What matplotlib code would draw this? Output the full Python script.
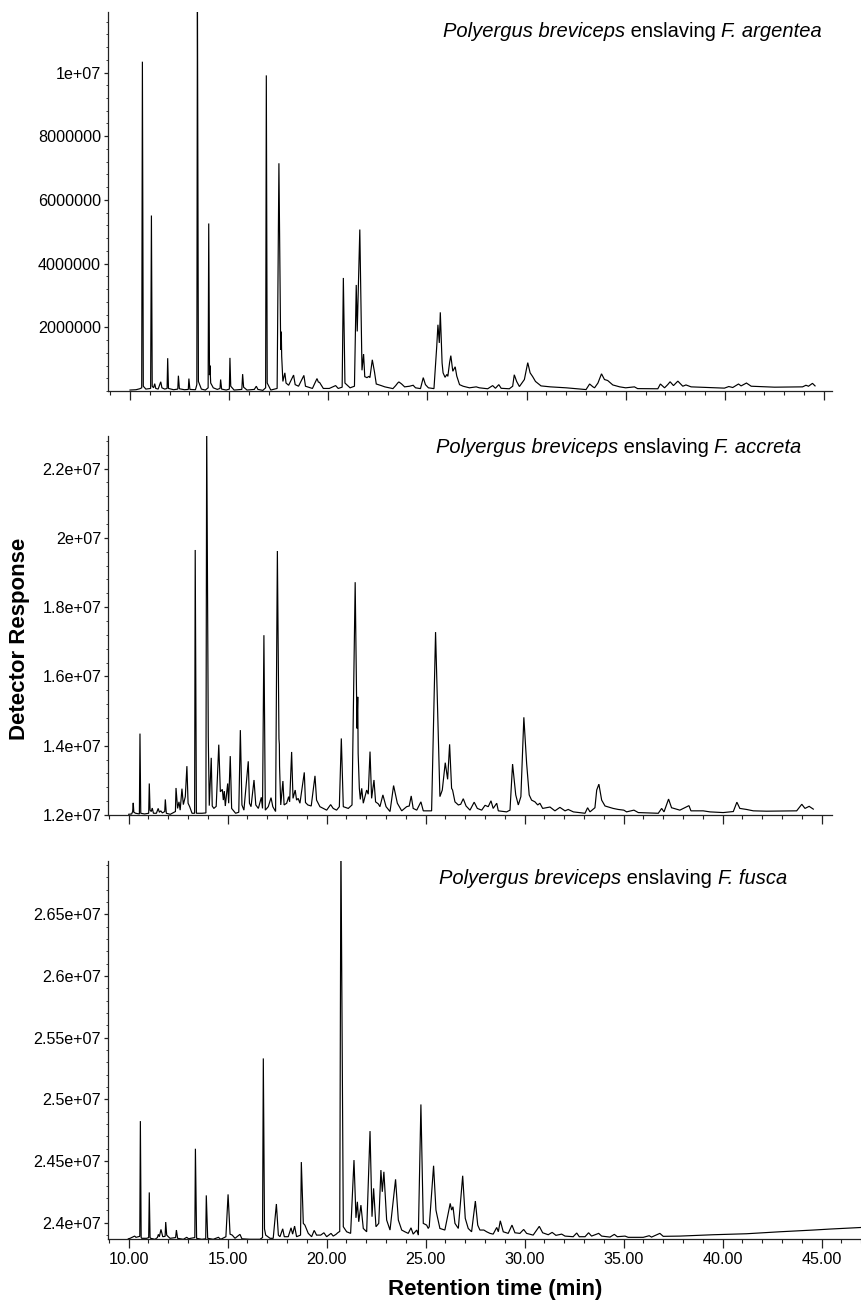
import matplotlib
matplotlib.use("Agg")
import matplotlib.pyplot as plt
from matplotlib.ticker import FixedLocator, FixedFormatter, MultipleLocator, NullFormatter

plt.rcParams['font.family'] = ['Liberation Sans', 'DejaVu Sans']

UNIT = 1e6  # responses below are in millions of counts

# ---- chromatogram vertices (retention time [min], detector response [1e6]) ----
argentea = [
    (10.00, 0.03), (10.30, 0.04), (10.49, 0.07), (10.59, 0.10), (10.625, 10.34), (10.67, 0.15),
    (10.80, 0.06), (11.04, 0.08), (11.08, 5.51), (11.12, 0.15), (11.19, 0.10), (11.245, 0.23),
    (11.30, 0.08), (11.42, 0.06), (11.55, 0.29), (11.61, 0.10), (11.75, 0.06), (11.87, 0.08),
    (11.90, 1.03), (11.94, 0.08), (12.20, 0.04), (12.41, 0.06), (12.44, 0.48), (12.49, 0.07),
    (12.75, 0.04), (12.94, 0.05), (12.97, 0.39), (13.02, 0.05), (13.30, 0.04), (13.37, 0.20),
    (13.40, 12.50), (13.45, 0.30), (13.60, 0.06), (13.80, 0.03), (13.94, 0.10), (13.97, 5.26),
    (14.01, 0.50), (14.03, 0.80), (14.07, 0.25), (14.20, 0.10), (14.40, 0.05), (14.54, 0.08),
    (14.57, 0.36), (14.62, 0.06), (14.85, 0.03), (15.01, 0.06), (15.04, 1.04), (15.08, 0.15),
    (15.25, 0.03), (15.64, 0.05), (15.68, 0.53), (15.73, 0.12), (15.90, 0.03), (16.27, 0.05),
    (16.37, 0.15), (16.45, 0.05), (16.70, 0.02), (16.84, 0.10), (16.875, 9.91), (16.92, 0.25),
    (17.10, 0.03), (17.42, 0.08), (17.51, 7.15), (17.60, 1.30), (17.63, 1.86), (17.65, 1.09),
    (17.71, 0.30), (17.81, 0.57), (17.87, 0.25), (18.00, 0.18), (18.25, 0.50), (18.33, 0.20),
    (18.50, 0.15), (18.77, 0.49), (18.85, 0.15), (19.20, 0.08), (19.43, 0.39), (19.50, 0.28),
    (19.56, 0.27), (19.75, 0.08), (20.05, 0.08), (20.37, 0.17), (20.50, 0.08), (20.70, 0.12),
    (20.76, 3.55), (20.84, 0.25), (21.10, 0.10), (21.32, 0.15), (21.41, 3.33), (21.46, 1.87),
    (21.59, 5.07), (21.70, 0.65), (21.78, 1.16), (21.84, 0.45), (21.95, 0.42), (22.05, 0.46),
    (22.10, 0.42), (22.22, 0.98), (22.33, 0.60), (22.42, 0.22), (22.67, 0.17), (22.85, 0.13),
    (23.26, 0.075), (23.40, 0.17), (23.50, 0.25), (23.56, 0.285), (23.70, 0.22), (23.85, 0.13),
    (24.10, 0.15), (24.28, 0.18), (24.40, 0.10), (24.65, 0.075), (24.79, 0.42), (24.90, 0.20),
    (25.05, 0.10), (25.33, 0.075), (25.47, 1.40), (25.53, 2.08), (25.60, 1.51), (25.65, 2.47),
    (25.74, 0.88), (25.79, 0.57), (25.89, 0.43), (25.98, 0.52), (26.03, 0.46), (26.12, 0.90),
    (26.18, 1.11), (26.28, 0.62), (26.40, 0.76), (26.48, 0.47), (26.62, 0.20), (26.80, 0.15),
    (27.12, 0.10), (27.46, 0.13), (27.62, 0.10), (28.04, 0.07), (28.29, 0.17), (28.43, 0.085),
    (28.60, 0.20), (28.72, 0.085), (29.13, 0.07), (29.30, 0.15), (29.38, 0.51), (29.50, 0.30),
    (29.64, 0.14), (29.89, 0.36), (30.06, 0.89), (30.18, 0.57), (30.31, 0.45), (30.45, 0.30),
    (30.73, 0.16), (31.20, 0.13), (32.00, 0.10), (33.00, 0.045), (33.18, 0.22), (33.35, 0.13),
    (33.43, 0.10), (33.60, 0.25), (33.78, 0.54), (33.93, 0.36), (34.09, 0.33), (34.35, 0.19),
    (34.70, 0.13), (35.00, 0.10), (35.44, 0.13), (35.60, 0.075), (36.62, 0.07), (36.75, 0.22),
    (36.96, 0.10), (37.12, 0.20), (37.24, 0.29), (37.41, 0.17), (37.63, 0.31), (37.88, 0.15),
    (38.04, 0.19), (38.30, 0.13), (39.14, 0.11), (39.98, 0.09), (40.20, 0.14), (40.40, 0.11),
    (40.69, 0.22), (40.82, 0.16), (41.09, 0.25), (41.33, 0.15), (42.51, 0.12), (43.92, 0.13),
    (44.09, 0.18), (44.22, 0.15), (44.42, 0.24), (44.55, 0.16),
]

accreta = [
    (10.00, 12.02), (10.15, 12.03), (10.20, 12.10), (10.23, 12.35), (10.26, 12.08), (10.35, 12.05),
    (10.54, 12.03), (10.57, 14.35), (10.61, 12.05), (10.80, 12.03), (11.01, 12.05), (11.04, 12.91),
    (11.08, 12.14), (11.14, 12.10), (11.19, 12.20), (11.25, 12.05), (11.40, 12.05), (11.49, 12.19),
    (11.55, 12.08), (11.62, 12.12), (11.70, 12.06), (11.82, 12.10), (11.85, 12.45), (11.90, 12.05),
    (12.10, 12.02), (12.36, 12.10), (12.39, 12.78), (12.47, 12.19), (12.54, 12.38), (12.60, 12.14),
    (12.69, 12.76), (12.76, 12.30), (12.86, 12.53), (12.94, 13.41), (13.00, 12.34), (13.08, 12.24),
    (13.20, 12.05), (13.33, 12.05), (13.36, 19.65), (13.42, 12.05), (13.70, 12.05), (13.90, 12.06),
    (13.94, 23.30), (14.01, 15.00), (14.02, 14.26), (14.07, 12.27), (14.17, 13.65), (14.22, 12.26),
    (14.30, 12.19), (14.42, 12.25), (14.55, 14.03), (14.63, 12.67), (14.73, 12.74), (14.78, 12.43),
    (14.83, 12.69), (14.88, 12.26), (15.00, 12.91), (15.05, 12.34), (15.13, 13.70), (15.20, 12.19),
    (15.40, 12.05), (15.56, 12.08), (15.64, 14.45), (15.72, 12.29), (15.82, 12.14), (16.04, 13.55),
    (16.10, 12.34), (16.18, 12.24), (16.33, 13.01), (16.42, 12.29), (16.55, 12.19), (16.70, 12.51),
    (16.76, 12.19), (16.83, 17.19), (16.90, 12.14), (17.05, 12.24), (17.19, 12.50), (17.28, 12.24),
    (17.42, 12.10), (17.51, 19.62), (17.59, 14.20), (17.61, 14.04), (17.62, 13.41), (17.68, 12.29),
    (17.79, 12.98), (17.85, 12.29), (17.98, 12.34), (18.08, 12.53), (18.13, 12.38), (18.23, 13.82),
    (18.30, 12.48), (18.41, 12.72), (18.48, 12.43), (18.56, 12.48), (18.65, 12.34), (18.87, 13.23),
    (18.93, 12.36), (19.05, 12.29), (19.22, 12.26), (19.41, 13.13), (19.49, 12.43), (19.66, 12.24),
    (20.00, 12.14), (20.20, 12.30), (20.33, 12.19), (20.50, 12.14), (20.64, 12.24), (20.74, 14.21),
    (20.84, 12.24), (21.09, 12.19), (21.28, 12.29), (21.44, 18.72), (21.53, 14.50), (21.57, 15.41),
    (21.59, 13.78), (21.65, 12.77), (21.70, 12.45), (21.77, 12.77), (21.85, 12.34), (22.02, 12.72),
    (22.10, 12.60), (22.19, 13.83), (22.27, 12.48), (22.39, 13.01), (22.47, 12.38), (22.61, 12.32),
    (22.69, 12.24), (22.84, 12.58), (23.00, 12.24), (23.20, 12.10), (23.38, 12.85), (23.57, 12.34),
    (23.79, 12.12), (24.04, 12.24), (24.17, 12.26), (24.27, 12.55), (24.37, 12.19), (24.55, 12.14),
    (24.76, 12.38), (24.88, 12.12), (25.30, 12.12), (25.50, 17.28), (25.60, 15.08), (25.63, 14.31),
    (25.72, 12.53), (25.84, 12.72), (25.99, 13.51), (26.11, 13.03), (26.21, 14.04), (26.31, 12.77),
    (26.36, 12.72), (26.48, 12.38), (26.65, 12.29), (26.77, 12.31), (26.90, 12.47), (27.04, 12.26),
    (27.24, 12.14), (27.45, 12.37), (27.61, 12.19), (27.83, 12.14), (28.00, 12.28), (28.16, 12.24),
    (28.30, 12.41), (28.41, 12.19), (28.59, 12.34), (28.67, 12.12), (29.09, 12.09), (29.26, 12.14),
    (29.39, 13.47), (29.55, 12.58), (29.68, 12.29), (29.81, 12.53), (29.96, 14.82), (30.10, 13.49),
    (30.23, 12.58), (30.35, 12.43), (30.52, 12.38), (30.66, 12.29), (30.77, 12.34), (30.91, 12.19),
    (31.28, 12.23), (31.53, 12.12), (31.78, 12.22), (32.04, 12.12), (32.20, 12.16), (32.46, 12.09),
    (33.05, 12.05), (33.18, 12.21), (33.30, 12.09), (33.55, 12.21), (33.64, 12.72), (33.75, 12.89),
    (33.89, 12.43), (34.06, 12.26), (34.47, 12.19), (34.73, 12.16), (35.01, 12.14), (35.15, 12.09),
    (35.52, 12.14), (35.74, 12.07), (36.75, 12.05), (36.92, 12.19), (37.04, 12.09), (37.27, 12.46),
    (37.42, 12.21), (37.84, 12.14), (38.30, 12.27), (38.40, 12.12), (39.02, 12.12), (39.36, 12.09),
    (40.03, 12.07), (40.54, 12.10), (40.72, 12.37), (40.87, 12.19), (41.21, 12.16), (41.55, 12.12),
    (42.22, 12.11), (43.74, 12.12), (44.00, 12.31), (44.16, 12.19), (44.37, 12.25), (44.58, 12.17),
]

fusca = [
    (9.98, 23.870), (10.07, 23.874), (10.23, 23.887), (10.30, 23.892), (10.37, 23.882), (10.49, 23.887),
    (10.56, 23.890), (10.59, 24.824), (10.63, 23.880), (10.66, 23.874), (10.91, 23.874), (11.01, 23.880),
    (11.04, 24.246), (11.08, 23.880), (11.11, 23.874), (11.33, 23.866), (11.45, 23.880), (11.50, 23.906),
    (11.55, 23.887), (11.63, 23.946), (11.72, 23.887), (11.84, 23.890), (11.87, 24.006), (11.92, 23.900),
    (12.00, 23.887), (12.09, 23.874), (12.37, 23.880), (12.41, 23.941), (12.47, 23.874), (12.76, 23.866),
    (12.93, 23.882), (13.03, 23.870), (13.13, 23.874), (13.34, 23.880), (13.37, 24.600), (13.43, 23.874),
    (13.69, 23.866), (13.89, 23.870), (13.92, 24.222), (13.99, 23.874), (14.27, 23.866), (14.53, 23.882),
    (14.65, 23.866), (14.91, 23.887), (15.02, 24.230), (15.12, 23.908), (15.23, 23.900), (15.37, 23.874),
    (15.62, 23.906), (15.72, 23.870), (16.13, 23.866), (16.63, 23.866), (16.76, 23.880), (16.80, 25.332),
    (16.86, 23.950), (16.92, 23.900), (17.14, 23.874), (17.30, 23.874), (17.46, 24.152), (17.56, 23.900),
    (17.64, 23.887), (17.78, 23.951), (17.86, 23.887), (18.06, 23.887), (18.20, 23.959), (18.28, 23.908),
    (18.38, 23.973), (18.48, 23.887), (18.68, 23.900), (18.72, 24.492), (18.82, 23.995), (18.90, 23.981),
    (19.07, 23.914), (19.24, 23.887), (19.37, 23.938), (19.49, 23.900), (19.70, 23.900), (19.86, 23.919),
    (20.00, 23.887), (20.22, 23.914), (20.33, 23.892), (20.47, 23.906), (20.56, 23.919), (20.66, 23.930),
    (20.72, 27.100), (20.84, 23.968), (21.01, 23.927), (21.21, 23.914), (21.38, 24.508), (21.48, 24.040),
    (21.55, 24.170), (21.62, 24.008), (21.73, 24.143), (21.85, 23.954), (22.02, 23.927), (22.19, 24.743),
    (22.29, 24.049), (22.37, 24.279), (22.49, 23.968), (22.63, 23.995), (22.74, 24.427), (22.81, 24.251),
    (22.89, 24.413), (23.03, 24.022), (23.20, 23.941), (23.48, 24.352), (23.62, 24.022), (23.79, 23.941),
    (23.95, 23.927), (24.12, 23.914), (24.26, 23.959), (24.37, 23.908), (24.55, 23.941), (24.63, 23.900),
    (24.76, 24.959), (24.88, 23.995), (25.05, 23.981), (25.13, 23.954), (25.18, 23.968), (25.40, 24.462),
    (25.52, 24.103), (25.59, 24.049), (25.72, 23.954), (25.97, 23.941), (26.24, 24.157), (26.31, 24.103),
    (26.38, 24.130), (26.48, 23.995), (26.65, 23.954), (26.87, 24.381), (27.00, 24.036), (27.15, 23.954),
    (27.32, 23.927), (27.51, 24.176), (27.63, 23.981), (27.74, 23.941), (27.94, 23.941), (28.08, 23.927),
    (28.25, 23.914), (28.41, 23.908), (28.59, 23.962), (28.67, 23.927), (28.77, 24.016), (28.92, 23.927),
    (29.17, 23.914), (29.36, 23.981), (29.51, 23.919), (29.76, 23.914), (29.95, 23.946), (30.10, 23.914),
    (30.43, 23.900), (30.74, 23.971), (30.91, 23.919), (31.19, 23.903), (31.39, 23.922), (31.58, 23.898),
    (31.87, 23.908), (32.04, 23.892), (32.45, 23.887), (32.63, 23.917), (32.76, 23.887), (33.05, 23.887),
    (33.23, 23.919), (33.38, 23.892), (33.74, 23.914), (33.89, 23.892), (34.31, 23.884), (34.53, 23.906),
    (34.68, 23.887), (35.07, 23.892), (35.23, 23.882), (35.99, 23.882), (36.29, 23.895), (36.41, 23.884),
    (36.83, 23.914), (37.00, 23.890), (37.84, 23.892), (39.53, 23.903), (41.21, 23.911), (42.89, 23.927),
    (44.58, 23.941), (45.42, 23.949), (47.02, 23.962),
]

# ---- axis ticks and labels ----
x_major_ticks = [10, 15, 20, 25, 30, 35, 40, 45]
x_tick_labels = ["10.00", "15.00", "20.00", "25.00", "30.00", "35.00", "40.00", "45.00"]

y_ticks_argentea = [2e6, 4e6, 6e6, 8e6, 1e7]
y_labels_argentea = ["2000000", "4000000", "6000000", "8000000", "1e+07"]
y_ticks_accreta = [1.2e7, 1.4e7, 1.6e7, 1.8e7, 2.0e7, 2.2e7]
y_labels_accreta = ["1.2e+07", "1.4e+07", "1.6e+07", "1.8e+07", "2e+07", "2.2e+07"]
y_ticks_fusca = [2.4e7, 2.45e7, 2.5e7, 2.55e7, 2.6e7, 2.65e7]
y_labels_fusca = ["2.4e+07", "2.45e+07", "2.5e+07", "2.55e+07", "2.6e+07", "2.65e+07"]

title_genus = "Polyergus breviceps"
title_verb = " enslaving "
title_hosts = ["F. argentea", "F. accreta", "F. fusca"]

# ---- figure ----
W, H = 862, 1303
fig = plt.figure(figsize=(W / 100, H / 100), dpi=100)

TITLE_FS = 14.5
TICK_FS = 11.6

panels = [
    dict(data=argentea, rect=(108, 12, 831.7, 391.0), xlim=(8.89, 45.39), ylim=(0, 1.19e7),
         yt=y_ticks_argentea, yl=y_labels_argentea, ymin=4e5, host=title_hosts[0],
         tpos=(442.7, 37.3), xlabels=False),
    dict(data=accreta, rect=(108.3, 436, 832.3, 815.0), xlim=(8.97, 45.54), ylim=(1.2e7, 2.294e7),
         yt=y_ticks_accreta, yl=y_labels_accreta, ymin=4e5, host=title_hosts[1],
         tpos=(435.7, 453.3), xlabels=False),
    dict(data=fusca, rect=(108.3, 861, 862, 1239.3), xlim=(8.97, 47.04), ylim=(2.3866e7, 2.6932e7),
         yt=y_ticks_fusca, yl=y_labels_fusca, ymin=1e5, host=title_hosts[2],
         tpos=(439.0, 884.0), xlabels=True),
]

for p in panels:
    x0, y0, x1, y1 = p["rect"]
    ax = fig.add_axes([x0 / W, 1 - y1 / H, (x1 - x0) / W, (y1 - y0) / H])
    t = [v[0] for v in p["data"]]
    r = [v[1] * UNIT for v in p["data"]]
    ax.plot(t, r, color="black", lw=0.85, solid_joinstyle="miter")
    ax.set_xlim(*p["xlim"])
    ax.set_ylim(*p["ylim"])
    for s in ("top", "right"):
        ax.spines[s].set_visible(False)
    for s in ("left", "bottom"):
        ax.spines[s].set_linewidth(0.9)
        ax.spines[s].set_color("#222222")
    ax.xaxis.set_major_locator(FixedLocator(x_major_ticks))
    ax.xaxis.set_minor_locator(MultipleLocator(1))
    if p["xlabels"]:
        ax.xaxis.set_major_formatter(FixedFormatter(x_tick_labels))
    else:
        ax.xaxis.set_major_formatter(NullFormatter())
    ax.yaxis.set_major_locator(FixedLocator(p["yt"]))
    ax.yaxis.set_major_formatter(FixedFormatter(p["yl"]))
    ax.yaxis.set_minor_locator(MultipleLocator(p["ymin"]))
    ax.tick_params(axis="x", which="major", direction="out", length=6.5, width=0.9,
                   color="#222222", labelsize=TICK_FS, pad=3)
    ax.tick_params(axis="x", which="minor", direction="out", length=3.2, width=0.8, color="#222222")
    ax.tick_params(axis="y", which="major", direction="out", length=3, width=0.9,
                   color="#222222", labelsize=TICK_FS, pad=2)
    ax.tick_params(axis="y", which="minor", direction="out", length=1.5, width=0.6, color="#222222")
    ax.patch.set_alpha(0)

    tx, ty = p["tpos"]
    t1 = fig.text(tx / W, 1 - ty / H, title_genus, fontsize=TITLE_FS, style="italic", va="baseline")
    t2 = ax.annotate(title_verb, xy=(1, 0), xycoords=t1, va="bottom", ha="left", fontsize=TITLE_FS,
                     annotation_clip=False)
    ax.annotate(p["host"], xy=(1, 0), xycoords=t2, va="bottom", ha="left", fontsize=TITLE_FS,
                style="italic", annotation_clip=False)

fig.text(20 / W, 1 - 639 / H, "Detector Response", rotation=90, fontsize=16, fontweight="bold",
         ha="center", va="center")
fig.text(495.5 / W, 1 - 1290 / H, "Retention time (min)", fontsize=16, fontweight="bold",
         ha="center", va="center")

fig.savefig("out.png", dpi=100)
